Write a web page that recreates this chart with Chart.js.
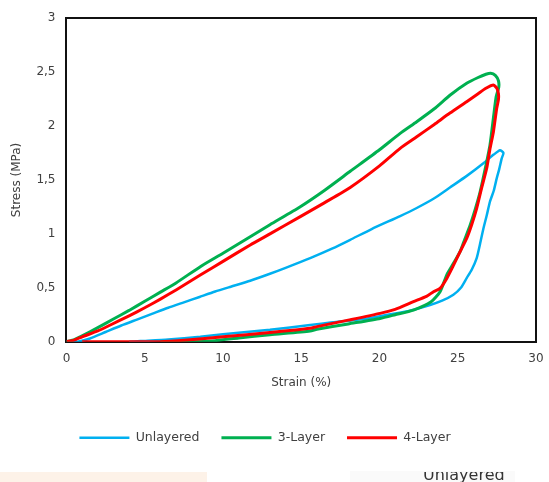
<!DOCTYPE html>
<html>
<head>
<meta charset="utf-8">
<script src="https://cdn.jsdelivr.net/npm/chart.js@4/dist/chart.umd.min.js"></script>
<style>
  html, body { margin: 0; padding: 0; background: #ffffff; }
  #wrap { width: 549px; height: 482px; position: relative; }
</style>
</head>
<body>
<div id="wrap"><canvas id="c" width="549" height="482"></canvas></div>
<script>
// Stress–strain hysteresis loops (loading then unloading), strain in %, stress in MPa
const seriesNames = ['Unlayered', '3-Layer', '4-Layer'];
const seriesColors = ['#00B0F0', '#00B050', '#FF0000'];

const unlayeredStrain = [0, 0.7, 1.5, 2.5, 3.5, 4.5, 5.5, 6.5, 7.5, 8.5, 9.5, 10.5, 11.74, 13, 14, 15.57, 17, 18.13, 19.5, 21.32, 22.38, 23.5, 24.5, 25.6, 26.64, 27.3, 27.7, 27.92, 27.81,
  27.65, 27.49, 27.3, 27.06, 26.85, 26.64, 26.43, 26.21, 25.9, 25.57, 25.2, 24.72, 24, 23.23, 22, 21.1, 19, 17, 15.57, 13, 10, 8.55, 6.5, 4.72, 4];
const unlayeredStress = [0, 0, 0.03, 0.09, 0.15, 0.205, 0.26, 0.315, 0.365, 0.415, 0.465, 0.51, 0.565, 0.63, 0.685, 0.775, 0.865, 0.945, 1.045, 1.165, 1.24, 1.33, 1.43, 1.54, 1.655, 1.735, 1.775, 1.75, 1.70,
  1.6, 1.515, 1.4, 1.3, 1.17, 1.05, 0.91, 0.775, 0.67, 0.59, 0.5, 0.435, 0.38, 0.34, 0.29, 0.263, 0.21, 0.18, 0.155, 0.11, 0.07, 0.046, 0.02, 0.006, 0];

const threeLayerStrain = [0, 0.5, 1, 2, 3, 4, 5, 6, 7, 8.55, 10, 11.74, 13, 14.94, 16.5, 18.13, 20, 21.32, 22.38, 23.5, 24.5, 25.57, 26.3, 26.8, 27.1, 27.4, 27.6, 27.62, 27.45,
  27.3, 27.06, 26.75, 26.43, 26.1, 25.79, 25.45, 25.15, 24.7, 24.3, 23.87, 23.3, 22.17, 21, 20.04, 18, 16, 15.57, 13, 11, 9.5, 8, 6];
const threeLayerStress = [0, 0.02, 0.055, 0.13, 0.21, 0.29, 0.375, 0.46, 0.545, 0.696, 0.82, 0.974, 1.085, 1.252, 1.405, 1.58, 1.78, 1.932, 2.04, 2.16, 2.285, 2.396, 2.45, 2.48, 2.49, 2.47, 2.42, 2.36, 2.27,
  2.1, 1.825, 1.6, 1.39, 1.22, 1.08, 0.95, 0.835, 0.72, 0.62, 0.464, 0.37, 0.293, 0.25, 0.216, 0.165, 0.115, 0.1, 0.065, 0.035, 0.01, 0, 0];

const fourLayerStrain = [0, 0.5, 1, 2, 2.8, 4, 5, 6, 7, 8.55, 10, 11.74, 13, 14.94, 16.5, 18.13, 20, 21.32, 22.38, 23.5, 24.5, 25.57, 26.3, 26.8, 27.28, 27.5, 27.6, 27.6, 27.49,
  27.28, 27.05, 26.85, 26.5, 26.21, 25.9, 25.57, 25.15, 24.7, 24.3, 23.87, 23.45, 23, 22.17, 21, 20.04, 18, 16, 15.57, 13, 10, 7.7, 6, 3, 1];
const fourLayerStress = [0, 0.015, 0.045, 0.1, 0.155, 0.24, 0.315, 0.395, 0.48, 0.618, 0.745, 0.897, 1.0, 1.16, 1.29, 1.43, 1.63, 1.793, 1.9, 2.015, 2.12, 2.226, 2.3, 2.35, 2.38, 2.35, 2.30, 2.245, 2.165,
  1.948, 1.78, 1.608, 1.41, 1.237, 1.09, 0.958, 0.835, 0.7, 0.587, 0.495, 0.464, 0.42, 0.371, 0.3, 0.263, 0.2, 0.14, 0.124, 0.085, 0.045, 0.016, 0, 0, 0];

const xTickMax = 30;
const yTickMax = 3;

function toPoints(xs, ys) {
  return xs.map((x, i) => ({ x: x, y: ys[i] }));
}

const allStrain = [unlayeredStrain, threeLayerStrain, fourLayerStrain];
const allStress = [unlayeredStress, threeLayerStress, fourLayerStress];
const drawOrder = [3, 2, 1];
const lineWidths = [2.5, 3, 3];

const datasets = seriesNames.map((name, i) => ({
  label: name,
  data: toPoints(allStrain[i], allStress[i]),
  borderColor: seriesColors[i],
  backgroundColor: seriesColors[i],
  borderWidth: lineWidths[i],
  pointRadius: 0,
  showLine: true,
  tension: 0.2,
  fill: false,
  order: drawOrder[i]
}));

const textColor = '#404040';
const frameColor = '#111111';
const fontFamily = '"DejaVu Sans", sans-serif';

// Box around the plotting area, drawn under the data lines
const boxPlugin = {
  id: 'plotBox',
  beforeDatasetsDraw(chart) {
    const a = chart.chartArea;
    const ctx = chart.ctx;
    const l = Math.round(a.left), r = Math.round(a.right);
    const t = Math.round(a.top), b = Math.round(a.bottom);
    ctx.save();
    ctx.fillStyle = frameColor;
    ctx.fillRect(l - 1, t - 1, r - l + 2, 2);
    ctx.fillRect(l - 1, b - 1, r - l + 2, 2);
    ctx.fillRect(l - 1, t - 1, 2, b - t + 2);
    ctx.fillRect(r - 1, t - 1, 2, b - t + 2);
    ctx.restore();
  }
};

// Centre the legend row a little left of the canvas middle
const legendShiftPlugin = {
  id: 'legendShift',
  afterLayout(chart) {
    if (chart.legend) {
      chart.legend.left -= 6;
      chart.legend.right -= 6;
    }
  }
};

// Strip along the lower edge of the canvas
const footerPlugin = {
  id: 'footerStrip',
  afterDraw(chart) {
    const ctx = chart.ctx;
    ctx.save();
    ctx.fillStyle = '#fdf2e8';
    ctx.fillRect(0, 472, 207, 10);
    ctx.fillStyle = '#fafafa';
    ctx.fillRect(350, 471, 165, 11);
    ctx.beginPath();
    ctx.rect(400, 472, 140, 10);
    ctx.clip();
    ctx.fillStyle = '#333333';
    ctx.font = '16px ' + fontFamily;
    ctx.textBaseline = 'alphabetic';
    ctx.textAlign = 'left';
    ctx.fillText('Unlayered', 423, 479.5);
    ctx.restore();
  }
};

new Chart(document.getElementById('c'), {
  type: 'scatter',
  data: { datasets: datasets },
  options: {
    responsive: false,
    animation: false,
    devicePixelRatio: 1,
    layout: { padding: { left: 6, right: 13, top: 10, bottom: 28 } },
    plugins: {
      legend: {
        position: 'bottom',
        labels: {
          usePointStyle: true,
          pointStyle: 'line',
          pointStyleWidth: 50,
          padding: 22,
          color: textColor,
          font: { family: fontFamily, size: 12.5 },
          sort: (a, b) => a.datasetIndex - b.datasetIndex
        }
      },
      tooltip: { enabled: false }
    },
    scales: {
      x: {
        type: 'linear',
        min: 0,
        max: xTickMax,
        grid: { display: false, drawTicks: false },
        border: { display: true, color: frameColor, width: 2 },
        afterFit: (scale) => { scale.paddingRight = 0; },
        ticks: {
          stepSize: 5,
          padding: 10,
          color: textColor,
          font: { family: fontFamily, size: 12 }
        },
        title: {
          display: true,
          text: 'Strain (%)',
          color: textColor,
          font: { family: fontFamily, size: 12 },
          padding: { top: 0, bottom: 19 }
        }
      },
      y: {
        type: 'linear',
        min: 0,
        max: yTickMax,
        grid: { display: false, drawTicks: false },
        border: { display: true, color: frameColor, width: 2 },
        ticks: {
          stepSize: 0.5,
          padding: 11,
          color: textColor,
          font: { family: fontFamily, size: 12 },
          callback: (v) => String(v).replace('.', ',')
        },
        title: {
          display: true,
          text: 'Stress (MPa)',
          color: textColor,
          font: { family: fontFamily, size: 12 },
          padding: { top: 4, bottom: 1 }
        }
      }
    }
  },
  plugins: [boxPlugin, legendShiftPlugin, footerPlugin]
});
</script>
</body>
</html>
